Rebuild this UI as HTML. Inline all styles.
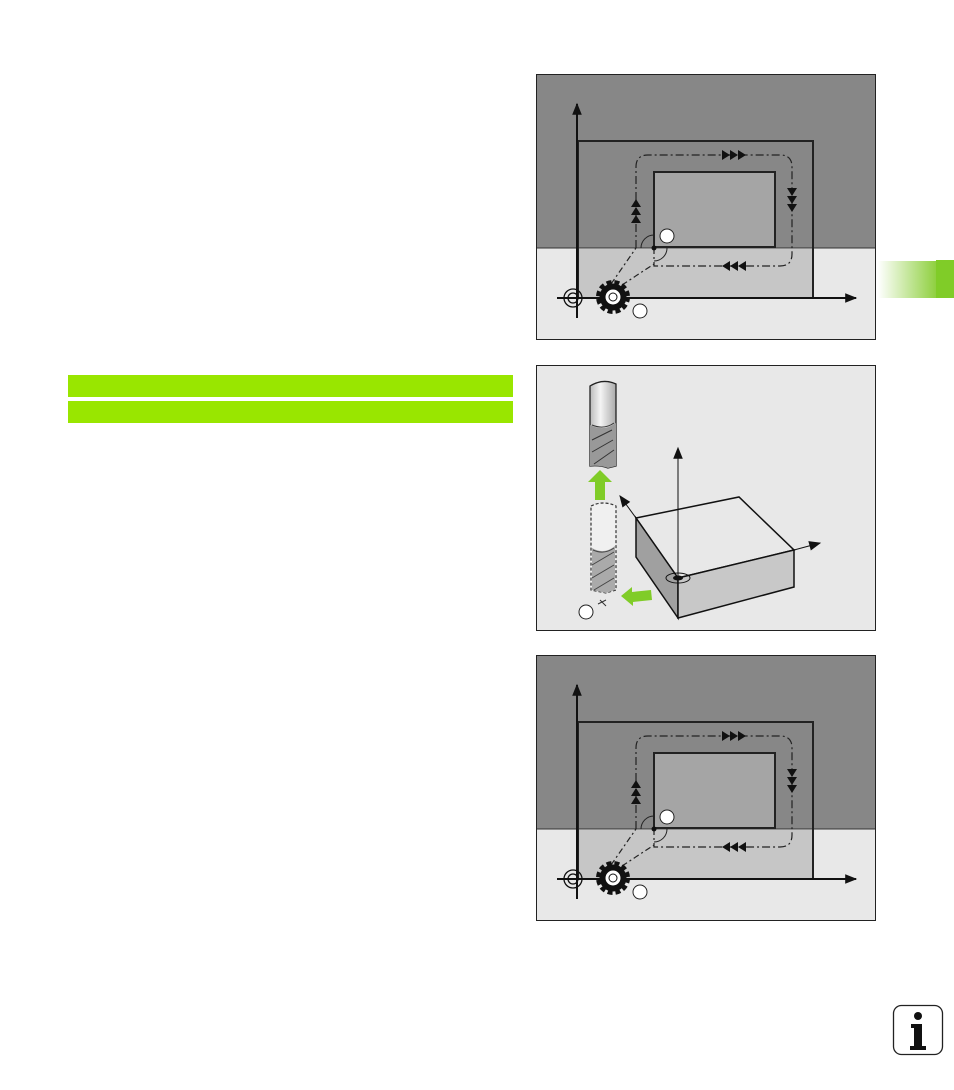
<!DOCTYPE html>
<html><head><meta charset="utf-8"><style>
html,body{margin:0;padding:0;background:#fff}
body{width:954px;height:1090px;position:relative;overflow:hidden;font-family:"Liberation Sans",sans-serif}
.bar{position:absolute;left:68px;width:445px;height:22px;background:#99e600}
</style></head><body>
<div class="bar" style="top:375px"></div>
<div class="bar" style="top:401px"></div>
<div style="position:absolute;left:878px;top:261px;width:58px;height:37px;background:linear-gradient(to right,#fff,#8fd040)"></div>
<div style="position:absolute;left:936px;top:260px;width:18px;height:38px;background:#80cc28"></div>

<svg width="954" height="1090" style="position:absolute;left:0;top:0">
<defs>
<marker id="ah" viewBox="0 0 10 10" refX="9" refY="5" markerUnits="userSpaceOnUse" markerWidth="16" markerHeight="12" orient="auto"><path d="M0,1 L10,5 L0,9z" fill="#111"/></marker>
<linearGradient id="tg" x1="0" x2="1"><stop offset="0" stop-color="#bbb"/><stop offset="0.4" stop-color="#f4f4f4"/><stop offset="1" stop-color="#aaa"/></linearGradient>
<g id="d1">
<rect x="536.5" y="74.5" width="339" height="265" fill="#e8e8e8" stroke="#222"/>
<rect x="537" y="75" width="338" height="173" fill="#878787"/>
<line x1="537" y1="248" x2="875" y2="248" stroke="#333" stroke-width="1"/>
<rect x="578" y="249" width="235" height="49" fill="#c6c6c6"/>
<rect x="578" y="141" width="235" height="157" fill="none" stroke="#222" stroke-width="2"/>
<rect x="654" y="172" width="121" height="75" fill="#a5a5a5" stroke="#222" stroke-width="2"/>
<path d="M636,248 L636,167 Q636,155 648,155 L780,155 Q792,155 792,167 L792,254 Q792,266 780,266 L654,266 L654,248" fill="none" stroke="#222" stroke-width="1.2" stroke-dasharray="8,3,2,3"/>
<line x1="611" y1="284" x2="636" y2="248" stroke="#222" stroke-width="1.2" stroke-dasharray="6,3,2,3"/>
<line x1="622" y1="285" x2="654" y2="264" stroke="#222" stroke-width="1.2" stroke-dasharray="6,3,2,3"/>
<path d="M641,248 A13,13 0 0 1 654,235" fill="none" stroke="#222"/>
<path d="M667,248 A13,13 0 0 1 654,261" fill="none" stroke="#222"/>
<circle cx="654" cy="248" r="2.5" fill="#111"/>
<g fill="#111">
<path d="M722,150 l8,5 l-8,5z M730,150 l8,5 l-8,5z M738,150 l8,5 l-8,5z"/>
<path d="M787,188 l5,8 l5,-8z M787,196 l5,8 l5,-8z M787,204 l5,8 l5,-8z"/>
<path d="M730,261 l-8,5 l8,5z M738,261 l-8,5 l8,5z M746,261 l-8,5 l8,5z"/>
<path d="M631,207 l5,-8 l5,8z M631,215 l5,-8 l5,8z M631,223 l5,-8 l5,8z"/>
</g>
<line x1="577" y1="318" x2="577" y2="104" stroke="#111" stroke-width="2" marker-end="url(#ah)"/>
<line x1="557" y1="298" x2="856" y2="298" stroke="#111" stroke-width="2" marker-end="url(#ah)"/>
<circle cx="573" cy="298" r="9" fill="none" stroke="#111" stroke-width="1.3"/>
<circle cx="573" cy="298" r="5" fill="none" stroke="#111" stroke-width="1.3"/>
<circle cx="613" cy="297" r="15" fill="none" stroke="#111" stroke-width="4" stroke-dasharray="5,3"/>
<circle cx="613" cy="297" r="13.5" fill="#111"/>
<circle cx="613" cy="297" r="8" fill="#fff" stroke="#111"/>
<circle cx="613" cy="297" r="4" fill="none" stroke="#111"/>
<circle cx="667" cy="236" r="7" fill="#fff" stroke="#222"/>
<circle cx="640" cy="311" r="7" fill="#fff" stroke="#222"/>
</g>
</defs>
<use href="#d1"/>
<use href="#d1" y="581"/>

<!-- diagram 2 -->
<rect x="536.5" y="365.5" width="339" height="265" fill="#e8e8e8" stroke="#222"/>
<polygon points="636,518 739,497 794,550 678,578" fill="#e8e8e8" stroke="#111" stroke-width="1.5"/>
<polygon points="636,518 678,578 678,618 636,557" fill="#a0a0a0" stroke="#111" stroke-width="1.5"/>
<polygon points="678,578 794,550 794,587 678,618" fill="#c8c8c8" stroke="#111" stroke-width="1.5"/>
<line x1="678" y1="578" x2="678" y2="448" stroke="#111" stroke-width="1" marker-end="url(#ah)"/>
<line x1="636" y1="518" x2="620" y2="496" stroke="#111" stroke-width="1" marker-end="url(#ah)"/>
<line x1="794" y1="550" x2="820" y2="543" stroke="#111" stroke-width="1" marker-end="url(#ah)"/>
<ellipse cx="678" cy="578" rx="12" ry="5" fill="none" stroke="#111"/>
<ellipse cx="678" cy="578" rx="5" ry="2.5" fill="#111"/>
<path d="M590,386 Q603,378 616,384 L616,466 L608,468 Q600,465 590,466 Z" fill="url(#tg)" stroke="#222" stroke-width="1.3"/>
<path d="M590,425 Q604,432 616,423 L616,466 L608,468 Q600,465 590,466 Z" fill="#999"/>
<path d="M592,425 Q604,430 614,423 M592,440 L612,430 M592,452 L613,440 M594,464 L614,450" stroke="#333" fill="none"/>
<path d="M600,470 L612,482 L605,482 L605,500 L595,500 L595,482 L588,482 Z" fill="#80cc28"/>
<path d="M591,506 Q603,500 616,506 L616,590 L606,593 L591,590 Z" fill="#f0f0f0" stroke="#333" stroke-width="1.2" stroke-dasharray="3,2"/>
<path d="M592,548 Q604,555 615,546 L615,590 L606,593 L592,590 Z" fill="#aaa"/>
<path d="M593,550 Q604,555 614,548 M592,565 L614,552 M592,578 L614,565 M594,590 L614,578" stroke="#444" fill="none"/>
<path d="M621,596 L632,587 L632,592 L651,590 L652,600 L633,602 L633,606 Z" fill="#80cc28"/>
<path d="M598,604 l8,-4 M600,600 l6,6" stroke="#333"/>
<circle cx="586" cy="612" r="7" fill="#fff" stroke="#222"/>

<rect x="893.5" y="1005.5" width="49" height="49" rx="8" fill="#fff" stroke="#222" stroke-width="1.3"/>
<circle cx="918" cy="1016" r="4" fill="#111"/>
<path d="M911,1024 L922,1024 L922,1046 L926,1046 L926,1050 L910,1050 L910,1046 L914,1046 L914,1028 L911,1028 Z" fill="#111"/>
</svg>
</body></html>
